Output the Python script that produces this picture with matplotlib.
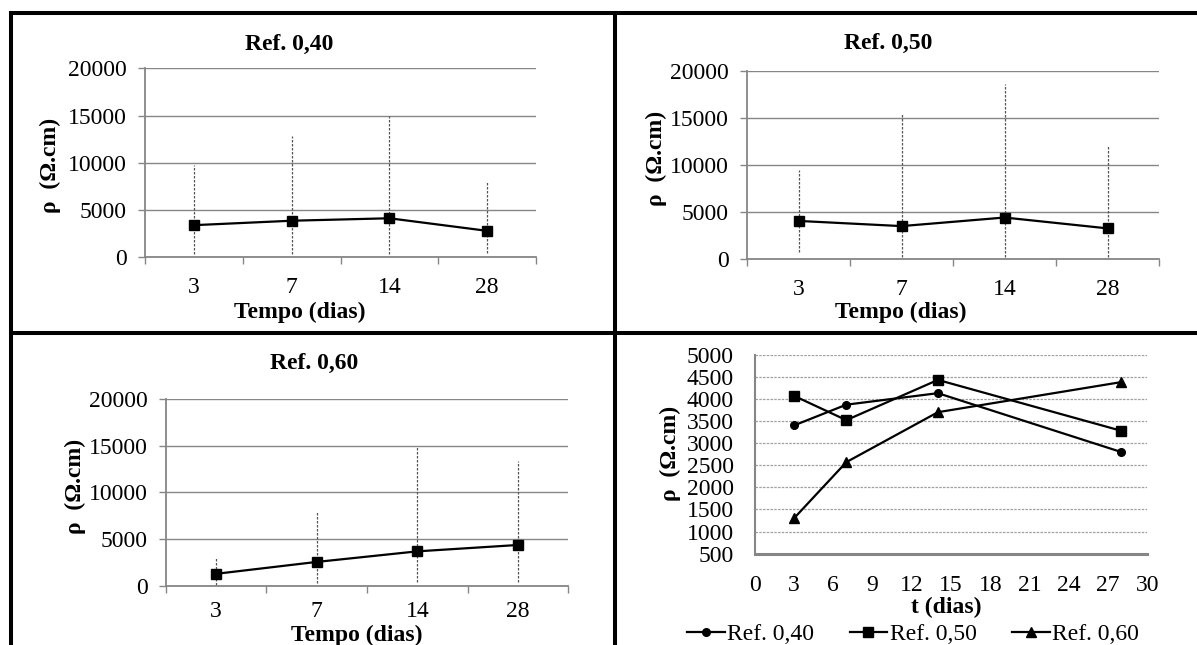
import numpy as np
import matplotlib.pyplot as plt
from matplotlib.lines import Line2D

plt.rcParams['font.family'] = ['Liberation Serif', 'DejaVu Serif']

# ages (days) and mean resistivity for each mix
dias = [3, 7, 14, 28]
dias_labels = ['3', '7', '14', '28']
ref40 = [3400, 3870, 4130, 2800]
ref50 = [4070, 3520, 4430, 3280]
ref60 = [1300, 2570, 3700, 4380]

# min / max of the individual readings (drawn as dashed bars)
ref40_min = [350, 350, 350, 500]
ref40_max = [9800, 12850, 14900, 8100]
ref50_min = [800, 250, 200, 250]
ref50_max = [9450, 15550, 18600, 12000]
ref60_min = [100, 350, 450, 450]
ref60_max = [3100, 7850, 14850, 13350]

W, H = 1197, 645
FS = 17
GRAY = '#868686'

fig = plt.figure(figsize=(W / 100, H / 100), dpi=100)


def px(x, y):
    return x / W, 1 - y / H


def box(x0, y0, x1, y1):
    return [x0 / W, 1 - y1 / H, (x1 - x0) / W, (y1 - y0) / H]


def bar_chart(rect, mean, lo, hi, title, tpos, xlpos, ylpos, xpad=14):
    ax = fig.add_axes(rect)
    pos = np.arange(len(mean))
    for i in pos:
        ax.plot([i, i], [lo[i], hi[i]], color='#555555', lw=0.9,
                ls=(0, (2, 1.2)), zorder=2)
    ax.plot(pos, mean, color='black', lw=1.6, marker='s', ms=6.5, zorder=3)
    ax.set_xlim(-0.5, 3.5)
    ax.set_ylim(0, 20000)
    ax.set_yticks([0, 5000, 10000, 15000, 20000])
    ax.set_xticks(pos)
    ax.set_xticklabels(dias_labels)
    ax.set_xticks(np.arange(-0.5, 4, 1), minor=True)
    ax.tick_params(axis='x', which='major', length=0, pad=xpad, labelsize=FS)
    ax.tick_params(axis='x', which='minor', length=5, width=1, color=GRAY,
                   direction='out')
    ax.tick_params(axis='y', length=5, width=1, color=GRAY, pad=8,
                   labelsize=FS)
    ax.grid(axis='y', color=GRAY, lw=1)
    ax.set_axisbelow(True)
    for s in ['top', 'right']:
        ax.spines[s].set_visible(False)
    for s in ['left', 'bottom']:
        ax.spines[s].set_color(GRAY)
        ax.spines[s].set_linewidth(1.3)
    fig.text(*px(*tpos), title, ha='center', va='center', fontsize=FS,
             fontweight='bold')
    fig.text(*px(*xlpos), 'Tempo (dias)', ha='center', va='center',
             fontsize=FS, fontweight='bold')
    fig.text(*px(*ylpos), 'ρ  (Ω.cm)', ha='center', va='center',
             fontsize=FS, fontweight='bold', rotation=90)
    return ax


bar_chart(box(145, 68.3, 536, 257.3), ref40, ref40_min, ref40_max,
          'Ref. 0,40', (289, 44), (300, 312), (50, 165))
bar_chart(box(747, 70.7, 1159, 259.3), ref50, ref50_min, ref50_max,
          'Ref. 0,50', (888, 43), (901, 312), (656, 158))
bar_chart(box(165.7, 398.7, 568.3, 586), ref60, ref60_min, ref60_max,
          'Ref. 0,60', (314, 363), (357, 635), (75, 486), xpad=11)

# summary chart
ax = fig.add_axes(box(754.7, 354.7, 1147.3, 553.7))
ax.plot(dias, ref40, color='black', lw=1.6, marker='o', ms=5.5,
        label='Ref. 0,40')
ax.plot(dias, ref50, color='black', lw=1.6, marker='s', ms=6.5,
        label='Ref. 0,50')
ax.plot(dias, ref60, color='black', lw=1.6, marker='^', ms=6.5,
        label='Ref. 0,60')
ax.set_xlim(0, 30)
ax.set_ylim(500, 5000)
ax.set_xticks(np.arange(0, 31, 3))
ax.set_yticks(np.arange(500, 5001, 500))
ax.tick_params(length=0, labelsize=FS)
ax.tick_params(axis='x', pad=15)
ax.tick_params(axis='y', pad=15)
ax.grid(axis='y', color='#a0a0a0', lw=0.9, ls=(0, (2, 1)))
ax.set_axisbelow(True)
for s in ['top', 'right']:
    ax.spines[s].set_visible(False)
ax.spines['left'].set_color(GRAY)
ax.spines['left'].set_linewidth(1.5)
ax.spines['bottom'].set_color(GRAY)
ax.spines['bottom'].set_linewidth(2.2)
fig.text(*px(946, 607), 't (dias)', ha='center', va='center', fontsize=FS,
         fontweight='bold')
fig.text(*px(670, 453), 'ρ  (Ω.cm)', ha='center', va='center', fontsize=FS,
         fontweight='bold', rotation=90)
ax.legend(loc='center', bbox_to_anchor=px(913, 634),
          bbox_transform=fig.transFigure, ncol=3, frameon=False,
          fontsize=FS, handlelength=1.6, handletextpad=0.1,
          columnspacing=1.5, borderpad=0)

# table borders
bw = 2.9
for xs, ys in [([11, W], [13, 13]), ([11, 11], [13, H]),
               ([615, 615], [13, H]), ([11, W], [333, 333])]:
    fig.add_artist(Line2D([x / W for x in xs], [1 - y / H for y in ys],
                          color='black', lw=bw, solid_capstyle='projecting'))

fig.savefig('out.png', dpi=100)
